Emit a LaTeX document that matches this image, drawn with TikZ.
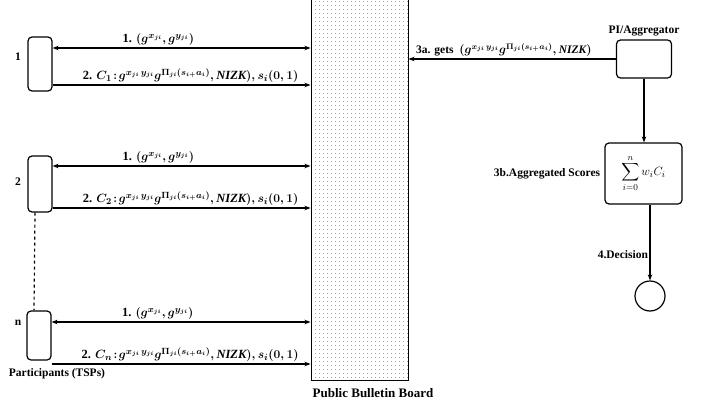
\documentclass[tikz,border=0pt]{standalone}
\usepackage{amsmath}
\usepackage{amssymb}
\usepackage{fontspec}
\setmainfont{Liberation Serif}
\usepackage{tikz}
\usetikzlibrary{arrows.meta}
\usetikzlibrary{scopes}
\usetikzlibrary{patterns.meta}

\newcommand{\gpair}{$(g^{x_{ji}},g^{y_{ji}})$}
\newcommand{\gprod}{g^{x_{ji}\,y_{ji}}g^{\Pi_{ji}(s_{i+}a_i)}}

\begin{document}
\begin{tikzpicture}[x=1pt,y=-1pt,auto]
\useasboundingbox (0,0) rectangle (706,409);
\begin{scope}[every node/.style={draw,rounded corners=4pt,line width=1.2pt,inner sep=0pt}]
    \node[minimum width=24pt,minimum height=54pt] (P1) at (40,64) {};
    \node[minimum width=24pt,minimum height=56pt] (P2) at (40,184) {};
    \node[minimum width=24pt,minimum height=49pt] (Pn) at (39,335.5) {};
    \node[minimum width=55pt,minimum height=38pt] (Agg) at (644,59) {};
    \node[minimum width=77pt,minimum height=61pt,font=\fontsize{12.5}{14}\selectfont] (Sum) at (643.5,173.5) {$\displaystyle\sum_{i=0}^{n} w_i C_i$};
\end{scope}
\node[draw,line width=1pt,pattern={Dots[distance=4pt,radius=0.45pt]},pattern color=black!70,
      minimum width=97pt,minimum height=381pt,inner sep=0pt] (PBB) at (359.5,189.5) {};
\node[draw,circle,line width=1.2pt,minimum size=30pt,inner sep=0pt] (Dec) at (650,296) {};

\begin{scope}[every node/.style={font=\fontsize{11.5}{13}\selectfont\bfseries}]
    \node (L1) at (18,57) {1};
    \node (L2) at (18,182) {2};
    \node (Ln) at (18,323) {n};
    \node (Ltsp) at (57,374) {Participants (TSPs)};
    \node[font=\fontsize{13}{15}\selectfont\bfseries] (Lpbb) at (373,393) {Public Bulletin Board};
    \node[above,inner sep=3pt] (Lagg) at (Agg.north) {PI/Aggregator};
    \node[left,inner sep=4pt] (Lsum) at (Sum.west) {3b.Aggregated Scores};
\end{scope}

\draw[dashed,line width=1.2pt] ([xshift=-5pt]P2.south) -- ([xshift=-5pt]Pn.north);

\begin{scope}[>={Stealth[length=6pt,width=4.5pt]},
              every edge/.style={draw,line width=1.2pt},
              every node/.style={font=\fontsize{12.5}{14}\selectfont\bfseries\boldmath,inner sep=1.5pt}]
    \path [<->] (P1.east |- 0,48) edge node[above,pos=0.41] {1. \gpair} (PBB.west |- 0,48);
    \path [->] (P1.east |- 0,85) edge node[above,pos=0.535] {2. $C_1\!:\!\gprod,\mathit{NIZK}),s_i(0,1)$} (PBB.west |- 0,85);
    \path [<->] (P2.east |- 0,166) edge node[above,pos=0.41] {1. \gpair} (PBB.west |- 0,166);
    \path [->] (P2.east |- 0,208) edge node[above,pos=0.535] {2. $C_2\!:\!\gprod,\mathit{NIZK}),s_i(0,1)$} (PBB.west |- 0,208);
    \path [<->] (Pn.east |- 0,322) edge node[above,pos=0.41] {1. \gpair} (PBB.west |- 0,322);
    \path [->] (Pn.east |- 0,364) edge node[above,pos=0.535] {2. $C_n\!:\!\gprod,\mathit{NIZK}),s_i(0,1)$} (PBB.west |- 0,364);
    \path [->] (Agg.west) edge node[above,pos=0.54,font=\fontsize{11.5}{13}\selectfont\bfseries\boldmath] {3a. gets\ \ $(\gprod,\mathit{NIZK})$} (PBB.east |- Agg.west);
    \path [->] (Agg.south) edge (Agg.south |- Sum.north);
    \path [->] (Dec.north |- Sum.south) edge node[left,pos=0.66,font=\fontsize{11.5}{13}\selectfont\bfseries] {4.Decision} (Dec.north);
\end{scope}
\end{tikzpicture}
\end{document}
